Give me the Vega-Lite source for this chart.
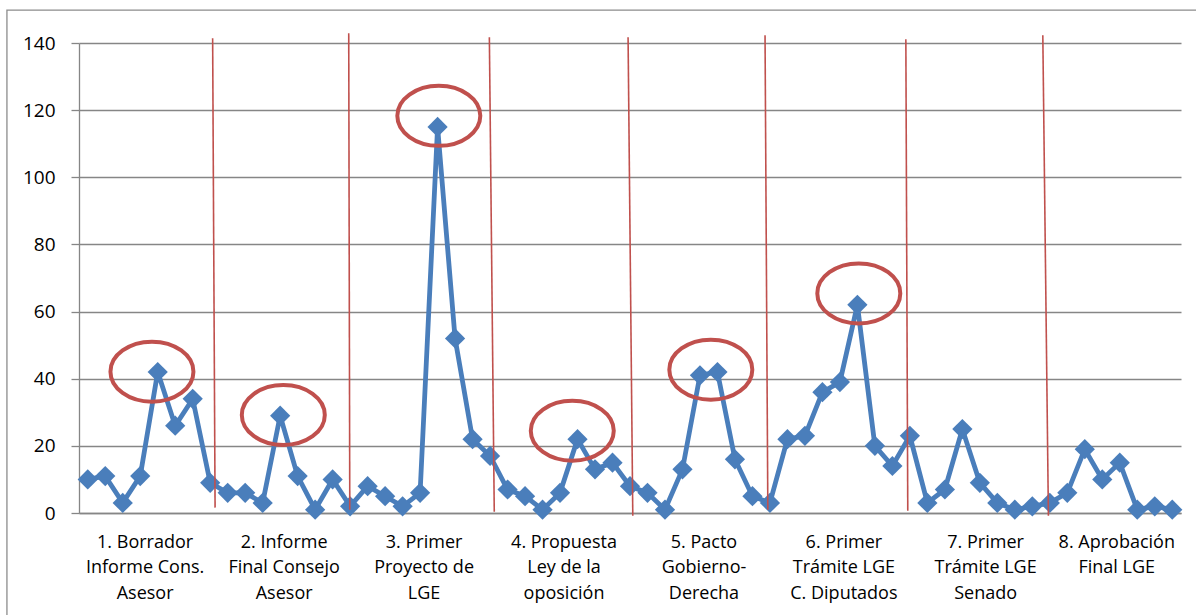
{
  "$schema": "https://vega.github.io/schema/vega-lite/v6.json",
  "width": 1102,
  "height": 470,
  "autosize": {"type": "none"},
  "padding": {"left": 79, "top": 43, "right": 15, "bottom": 102},
  "background": "white",
  "config": {"view": {"stroke": null}, "font": "Open Sans"},
  "datasets": {
    "menciones": [
      {"n": 1, "valor": 10}, {"n": 2, "valor": 11}, {"n": 3, "valor": 3}, {"n": 4, "valor": 11},
      {"n": 5, "valor": 42}, {"n": 6, "valor": 26}, {"n": 7, "valor": 34}, {"n": 8, "valor": 9},
      {"n": 9, "valor": 6}, {"n": 10, "valor": 6}, {"n": 11, "valor": 3}, {"n": 12, "valor": 29},
      {"n": 13, "valor": 11}, {"n": 14, "valor": 1}, {"n": 15, "valor": 10}, {"n": 16, "valor": 2},
      {"n": 17, "valor": 8}, {"n": 18, "valor": 5}, {"n": 19, "valor": 2}, {"n": 20, "valor": 6},
      {"n": 21, "valor": 115}, {"n": 22, "valor": 52}, {"n": 23, "valor": 22}, {"n": 24, "valor": 17},
      {"n": 25, "valor": 7}, {"n": 26, "valor": 5}, {"n": 27, "valor": 1}, {"n": 28, "valor": 6},
      {"n": 29, "valor": 22}, {"n": 30, "valor": 13}, {"n": 31, "valor": 15}, {"n": 32, "valor": 8},
      {"n": 33, "valor": 6}, {"n": 34, "valor": 1}, {"n": 35, "valor": 13}, {"n": 36, "valor": 41},
      {"n": 37, "valor": 42}, {"n": 38, "valor": 16}, {"n": 39, "valor": 5}, {"n": 40, "valor": 3},
      {"n": 41, "valor": 22}, {"n": 42, "valor": 23}, {"n": 43, "valor": 36}, {"n": 44, "valor": 39},
      {"n": 45, "valor": 62}, {"n": 46, "valor": 20}, {"n": 47, "valor": 14}, {"n": 48, "valor": 23},
      {"n": 49, "valor": 3}, {"n": 50, "valor": 7}, {"n": 51, "valor": 25}, {"n": 52, "valor": 9},
      {"n": 53, "valor": 3}, {"n": 54, "valor": 1}, {"n": 55, "valor": 2}, {"n": 56, "valor": 3},
      {"n": 57, "valor": 6}, {"n": 58, "valor": 19}, {"n": 59, "valor": 10}, {"n": 60, "valor": 15},
      {"n": 61, "valor": 1}, {"n": 62, "valor": 2}, {"n": 63, "valor": 1}
    ],
    "cortes": [
      {"x_sup": 8.14, "y_sup": 141.4, "x_inf": 8.28, "y_inf": 1.6},
      {"x_sup": 15.92, "y_sup": 142.9, "x_inf": 15.98, "y_inf": 1.0},
      {"x_sup": 23.96, "y_sup": 141.7, "x_inf": 24.24, "y_inf": 0.4},
      {"x_sup": 31.89, "y_sup": 141.7, "x_inf": 32.16, "y_inf": -0.8},
      {"x_sup": 39.72, "y_sup": 142.3, "x_inf": 39.88, "y_inf": 1.0},
      {"x_sup": 47.77, "y_sup": 141.1, "x_inf": 47.88, "y_inf": 0.7},
      {"x_sup": 55.6, "y_sup": 142.3, "x_inf": 55.92, "y_inf": -0.8}
    ],
    "picos": [
      {"x": 4.67, "y": 42.1},
      {"x": 12.18, "y": 29.2},
      {"x": 21.07, "y": 118.3},
      {"x": 28.7, "y": 24.5},
      {"x": 36.62, "y": 42.7},
      {"x": 45.08, "y": 65.4}
    ]
  },
  "layer": [
    {
      "data": {"name": "menciones"},
      "mark": {"type": "line", "color": "#4a7ebb", "strokeWidth": 4.8},
      "encoding": {
        "x": {
          "field": "n", "type": "quantitative", "title": null,
          "scale": {"domain": [0.5, 63.5], "nice": false, "zero": false},
          "axis": {
            "values": [4.25, 12.2, 20.2, 28.2, 36.2, 44.2, 52.3, 59.8],
            "labelExpr": "split(['1. Borrador|Informe Cons.|Asesor','2. Informe|Final Consejo|Asesor','3. Primer|Proyecto de|LGE','4. Propuesta|Ley de la|oposición','5. Pacto|Gobierno-|Derecha','6. Primer|Trámite LGE|C. Diputados','7. Primer|Trámite LGE|Senado','8. Aprobación|Final LGE'][floor(datum.value / 8)], '|')",
            "grid": false,
            "ticks": false,
            "tickSize": 0,
            "labelPadding": 20,
            "labelBaseline": "top",
            "labelLineHeight": 25.5,
            "labelFontSize": 18,
            "labelColor": "#000000",
            "domainColor": "#868686",
            "domainWidth": 1.3,
            "labelOverlap": false,
            "labelFlush": false,
            "labelBound": false,
            "title": null
          }
        },
        "y": {
          "field": "valor", "type": "quantitative", "title": null,
          "scale": {"domain": [0, 140], "nice": false},
          "axis": {
            "values": [0, 20, 40, 60, 80, 100, 120, 140],
            "grid": true,
            "gridColor": "#868686",
            "gridWidth": 1.3,
            "domainColor": "#868686",
            "domainWidth": 1.3,
            "tickColor": "#868686",
            "tickSize": 8,
            "tickWidth": 1.3,
            "labelPadding": 16,
            "labelFontSize": 19,
            "labelColor": "#000000",
            "title": null
          }
        }
      }
    },
    {
      "data": {"name": "menciones"},
      "mark": {"type": "point", "shape": "diamond", "filled": true, "size": 410, "color": "#4a7ebb", "opacity": 1},
      "encoding": {
        "x": {"field": "n", "type": "quantitative", "title": null},
        "y": {"field": "valor", "type": "quantitative", "title": null}
      }
    },
    {
      "data": {"values": [{}]},
      "mark": {"type": "rect", "fill": null, "stroke": "#8c8c8c", "strokeWidth": 1.3},
      "encoding": {
        "x": {"datum": -3.62, "type": "quantitative", "title": null},
        "x2": {"datum": 66},
        "y": {"datum": 149.8, "type": "quantitative", "title": null},
        "y2": {"datum": -36}
      }
    },
    {
      "data": {"name": "cortes"},
      "mark": {"type": "rule", "color": "#c0504d", "strokeWidth": 1.6},
      "encoding": {
        "x": {"field": "x_sup", "type": "quantitative", "title": null},
        "x2": {"field": "x_inf"},
        "y": {"field": "y_sup", "type": "quantitative", "title": null},
        "y2": {"field": "y_inf"}
      }
    },
    {
      "data": {"name": "picos"},
      "mark": {
        "type": "point",
        "shape": "M -1 0 A 1 0.723 0 1 0 1 0 A 1 0.723 0 1 0 -1 0 Z",
        "size": 6889,
        "filled": false,
        "stroke": "#c0504d",
        "strokeWidth": 4,
        "opacity": 1
      },
      "encoding": {
        "x": {"field": "x", "type": "quantitative", "title": null},
        "y": {"field": "y", "type": "quantitative", "title": null}
      }
    }
  ]
}
